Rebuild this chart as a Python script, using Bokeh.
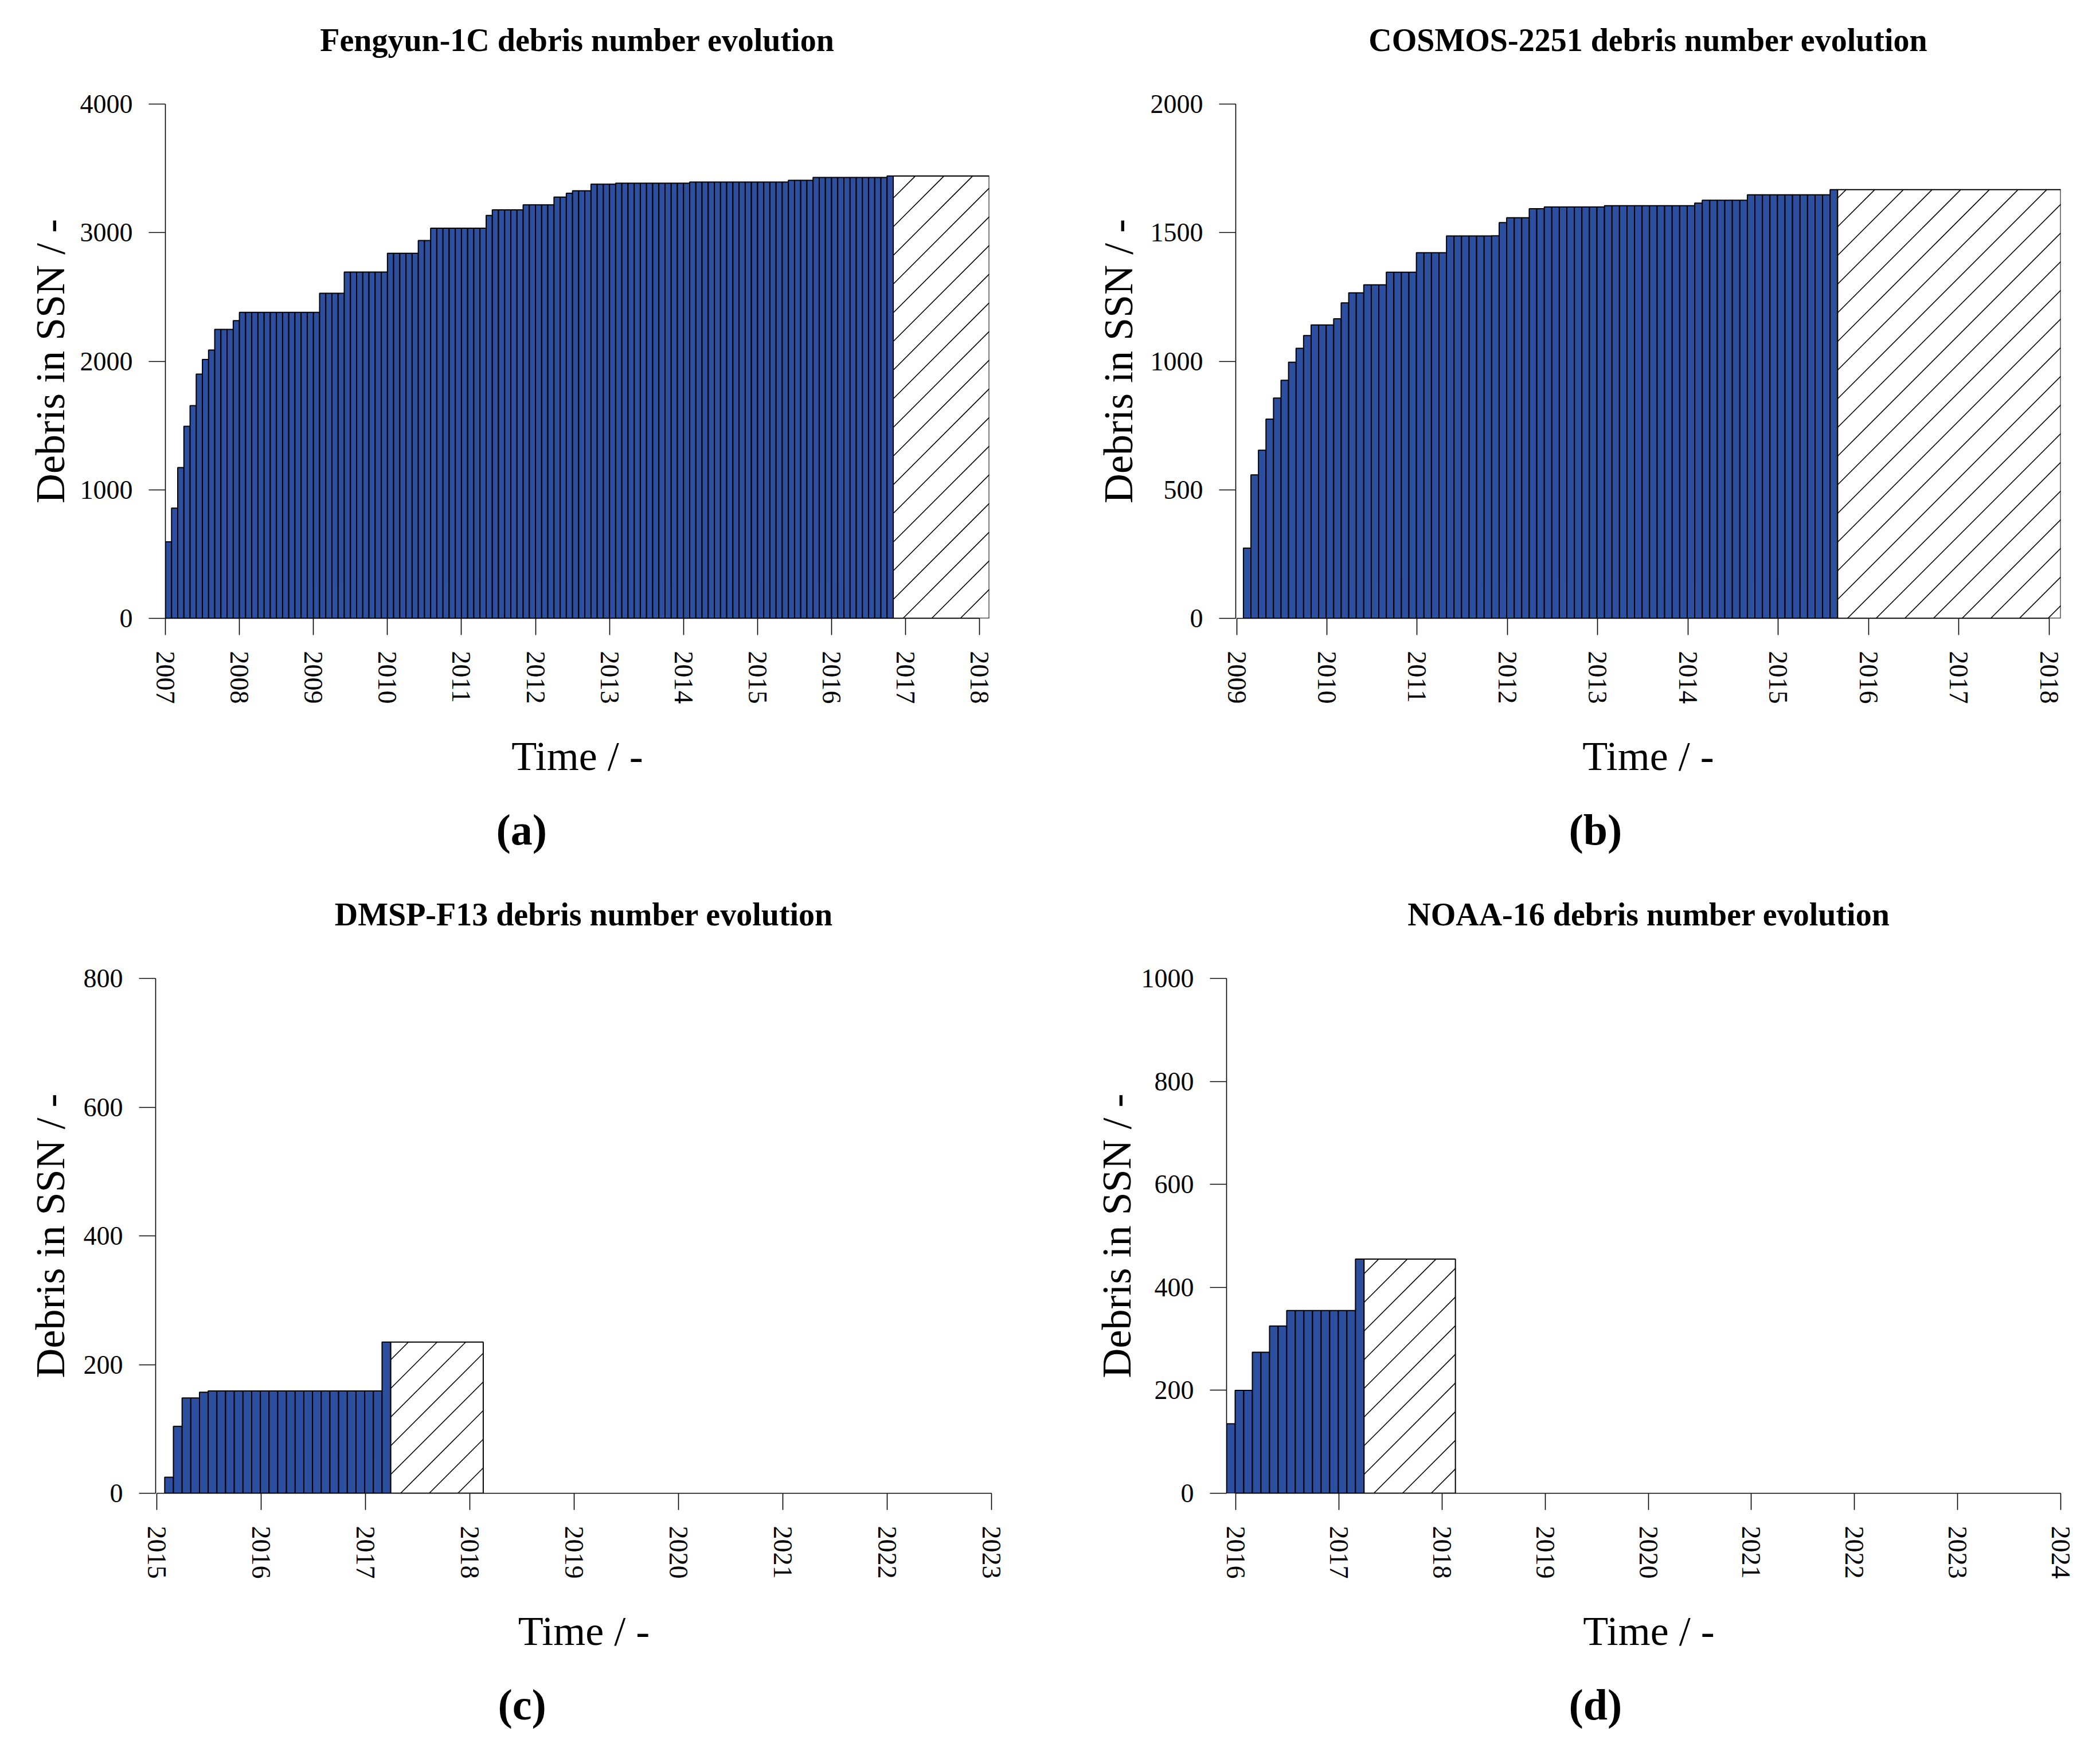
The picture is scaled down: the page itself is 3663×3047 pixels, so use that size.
from bokeh.plotting import figure
from bokeh.models import Range1d, FixedTicker, Title
from bokeh.layouts import column, row
from bokeh.embed import file_html
from bokeh.resources import INLINE

# ---------------- data (monthly debris catalogued in SSN) ----------------
# (a) Fengyun-1C, first bar = January 2007, one bar per month
fy_title = "Fengyun-1C debris number evolution"
fy_start = 2007.0
fy_counts = [
    595, 857, 1173, 1494, 1654, 1900, 2013, 2087, 2247, 2247, 2247, 2316,
    2380, 2380, 2380, 2380, 2380, 2380, 2380, 2380, 2380, 2380, 2380, 2380,
    2380, 2528, 2528, 2528, 2528, 2693, 2693, 2693, 2693, 2693, 2693, 2693,
    2840, 2840, 2840, 2840, 2840, 2939, 2939, 3035, 3035, 3035, 3035, 3035,
    3035, 3035, 3035, 3035, 3134, 3177, 3177, 3177, 3177, 3177, 3216, 3216,
    3216, 3216, 3216, 3277, 3277, 3307, 3325, 3325, 3325, 3377, 3377, 3377,
    3377, 3385, 3385, 3385, 3385, 3385, 3385, 3385, 3385, 3385, 3385, 3385,
    3385, 3393, 3393, 3393, 3393, 3393, 3393, 3393, 3393, 3393, 3393, 3393,
    3393, 3393, 3393, 3393, 3393, 3407, 3407, 3407, 3407, 3429, 3429, 3429,
    3429, 3429, 3429, 3429, 3429, 3429, 3429, 3429, 3429, 3440,
]
fy_proj_end = 2018.13
fy_years = list(range(2007, 2019))
fy_yticks = [0, 1000, 2000, 3000, 4000]

# (b) COSMOS-2251, first bar = February 2009
cs_title = "COSMOS-2251 debris number evolution"
cs_start = 2009.075
cs_counts = [
    273, 558, 654, 775, 857, 926, 996, 1050, 1100, 1141, 1141, 1141,
    1165, 1227, 1266, 1266, 1297, 1297, 1297, 1346, 1346, 1346, 1346, 1422,
    1422, 1422, 1422, 1487, 1487, 1487, 1487, 1487, 1487, 1488, 1539, 1558,
    1558, 1558, 1593, 1593, 1600, 1600, 1600, 1600, 1600, 1600, 1600, 1600,
    1605, 1605, 1605, 1605, 1605, 1605, 1605, 1605, 1605, 1605, 1605, 1605,
    1615, 1626, 1626, 1626, 1626, 1626, 1626, 1647, 1647, 1647, 1647, 1647,
    1647, 1647, 1647, 1647, 1647, 1647, 1667,
]
cs_proj_end = 2018.13
cs_years = list(range(2009, 2019))
cs_yticks = [0, 500, 1000, 1500, 2000]

# (c) DMSP-F13, first bar = February 2015
dm_title = "DMSP-F13 debris number evolution"
dm_start = 2015.077
dm_counts = [
    25, 104, 148, 148, 157, 159, 159, 159, 159, 159, 159, 159, 159,
    159, 159, 159, 159, 159, 159, 159, 159, 159, 159, 159, 159, 235,
]
dm_proj_end = 2018.13
dm_years = list(range(2015, 2024))
dm_yticks = [0, 200, 400, 600, 800]

# (d) NOAA-16, first bar = December 2015
no_title = "NOAA-16 debris number evolution"
no_start = 2015.911
no_counts = [135, 200, 200, 274, 274, 325, 325, 355, 355, 355, 355, 355, 355, 355, 355, 455]
no_proj_end = 2018.13
no_years = list(range(2016, 2025))
no_yticks = [0, 200, 400, 600, 800, 1000]

BAR_COLOR = "#2c4fa0"
SERIF = "Liberation Serif"
HATCH_SPACING_PX = 50   # horizontal distance between 45-degree hatch lines
HATCH_PHASE_PX = 33


def hatch_lines(x0, x1, y1, sx, sy):
    """45-degree (screen space) hatch lines clipped to the box [x0,x1] x [0,y1].
    sx, sy: pixels per data unit."""
    W = (x1 - x0) * sx
    H = y1 * sy
    xs, ys = [], []
    c = HATCH_PHASE_PX - HATCH_SPACING_PX * int((W + HATCH_PHASE_PX) / HATCH_SPACING_PX + 1)
    while c < H:
        a = max(0.0, -c)
        b = min(W, H - c)
        if b > a:
            xs.append([x0 + a / sx, x0 + b / sx])
            ys.append([(a + c) / sy, (b + c) / sy])
        c += HATCH_SPACING_PX
    return xs, ys


def panel(title, caption, start, counts, proj_end, years, yticks,
          width, height, border_left, border_right, border_top, border_bottom,
          x_start, x_end, ylab_standoff, cap_offset):
    p = figure(width=width, height=height, output_backend="svg", toolbar_location=None,
               x_range=Range1d(x_start, x_end), y_range=Range1d(0, yticks[-1]),
               min_border_left=border_left, min_border_right=border_right,
               min_border_top=border_top, min_border_bottom=border_bottom)
    p.outline_line_color = None
    p.grid.visible = False
    p.background_fill_color = "white"
    p.border_fill_color = "white"
    p.title_location = None

    frame_w = width - border_left - border_right
    frame_h = height - border_top - border_bottom
    sx = frame_w / (x_end - x_start)
    sy = frame_h / yticks[-1]

    n = len(counts)
    lefts = [start + i / 12.0 for i in range(n)]
    rights = [start + (i + 1) / 12.0 for i in range(n)]
    p.quad(left=lefts, right=rights, bottom=[0] * n, top=counts,
           fill_color=BAR_COLOR, line_color="black", line_width=2)
    # projection box (hatched) from the last month up to the data cut-off
    p.quad(left=[rights[-1]], right=[proj_end], bottom=[0], top=[counts[-1]],
           fill_color="white", line_color=None)
    hx, hy = hatch_lines(rights[-1], proj_end, counts[-1], sx, sy)
    p.multi_line(xs=hx, ys=hy, line_color="black", line_width=1.6)
    p.quad(left=[rights[-1]], right=[proj_end], bottom=[0], top=[counts[-1]],
           fill_color=None, line_color="black", line_width=2)

    xa = p.xaxis[0]
    xa.ticker = FixedTicker(ticks=years)
    xa.bounds = (years[0], years[-1])
    xa.major_label_overrides = {y: str(y) for y in years}
    xa.major_label_orientation = "vertical"
    xa.axis_label = "Time / -"

    ya = p.yaxis[0]
    ya.ticker = FixedTicker(ticks=yticks)
    ya.bounds = (yticks[0], yticks[-1])
    ya.major_label_overrides = {v: str(v) for v in yticks}
    ya.axis_label = "Debris in SSN / -"
    ya.axis_label_standoff = ylab_standoff

    for ax in (xa, ya):
        ax.minor_tick_line_color = None
        ax.major_tick_in = 0
        ax.major_tick_out = 29
        ax.major_tick_line_width = 1.6
        ax.axis_line_width = 1.6
        ax.axis_line_color = "black"
        ax.major_tick_line_color = "black"
        ax.major_label_text_font = SERIF
        ax.major_label_text_font_size = "46px"
        ax.major_label_text_color = "black"
        ax.major_label_standoff = 28
        ax.axis_label_text_font = SERIF
        ax.axis_label_text_font_size = "72px"
        ax.axis_label_text_font_style = "normal"
        ax.axis_label_text_color = "black"
    xa.axis_label_standoff = 48

    # above: spacer next to the frame, then the title
    p.add_layout(Title(text=" ", text_font_size="1px", standoff=78), "above")
    p.add_layout(Title(text=title, align="center", text_font=SERIF, text_font_size="56px",
                       text_font_style="bold", text_color="black", standoff=0), "above")
    # below: axis, spacer, caption
    p.add_layout(Title(text=" ", text_font_size="1px", standoff=38), "below")
    p.add_layout(Title(text=caption, align="left", offset=cap_offset, text_font=SERIF,
                       text_font_size="76px", text_font_style="bold",
                       text_color="black", standoff=0), "below")
    return p


pa = panel(fy_title, "(a)", fy_start, fy_counts, fy_proj_end, fy_years, fy_yticks,
           1822, 1512, 288, 97, 181, 434, fy_start, fy_proj_end, 9, 577)
pb = panel(cs_title, "(b)", cs_start, cs_counts, cs_proj_end, cs_years, cs_yticks,
           1825, 1512, 333, 53, 181, 434, 2008.99, cs_proj_end, 13, 581)
pc = panel(dm_title, "(c)", dm_start, dm_counts, dm_proj_end, dm_years, dm_yticks,
           1822, 1519, 271, 57, 194, 427, 2014.99, 2023.2, 15, 597)
pd_ = panel(no_title, "(d)", no_start, no_counts, no_proj_end, no_years, no_yticks,
            1825, 1519, 317, 35, 194, 427, no_start, 2024.1, 0, 597)

layout = column(row(pa, pb), row(pc, pd_))
open("out.html", "w").write(file_html(layout, INLINE))
